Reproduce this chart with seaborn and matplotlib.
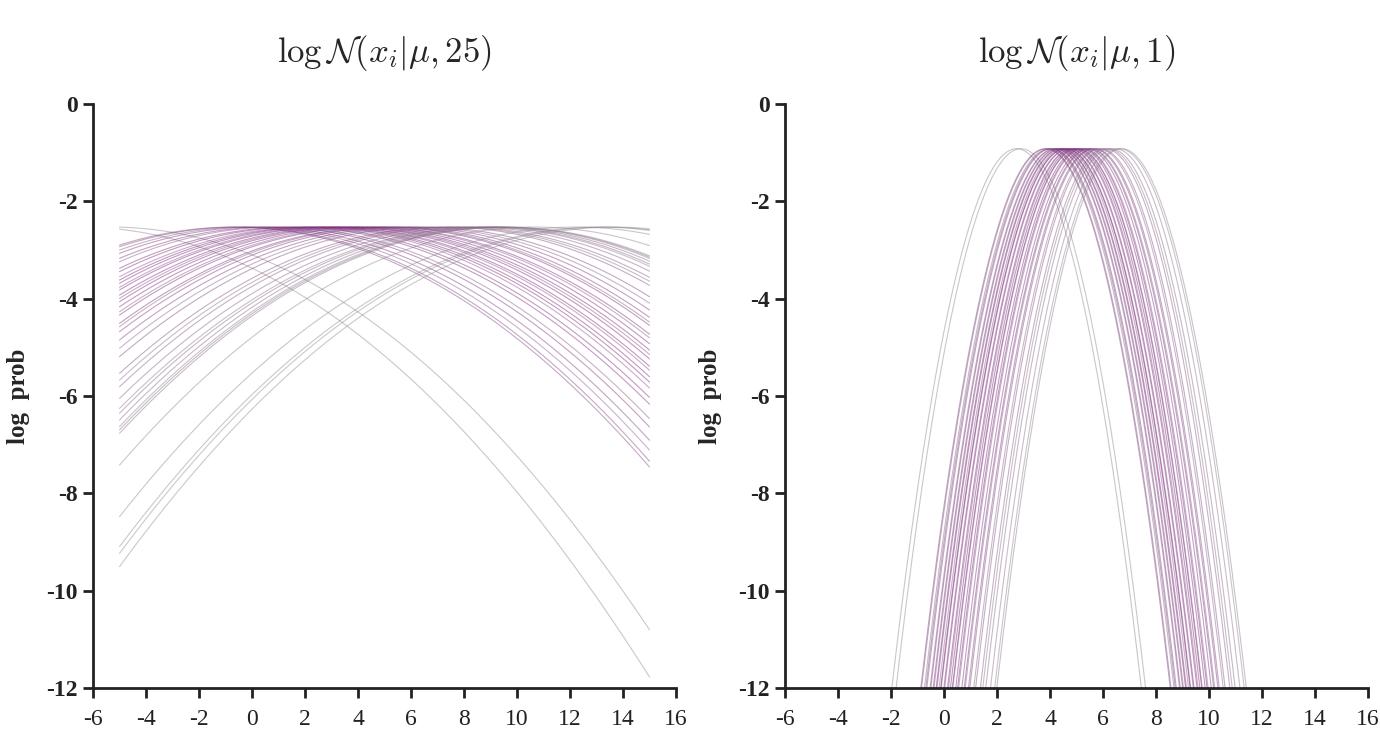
import numpy as np
import pandas as pd
import matplotlib
matplotlib.use("Agg")
import matplotlib.pyplot as plt
import matplotlib.colors as mcolors
import seaborn as sns

x_left = [-6.5, -5.34, -0.70, -0.51, -0.14, 0.20, 0.67, 0.97, 1.51, 1.77, 2.14,
          2.38, 2.60, 2.87, 3.04, 3.36, 3.56, 3.76, 4.05, 4.33, 4.51, 4.95,
          5.12, 5.37, 5.77, 6.16, 6.54, 7.26, 7.54, 7.81, 8.27, 8.65, 8.83,
          9.08, 9.32, 9.44, 9.56, 10.64, 12.25, 13.12, 13.31, 13.68]
x_right = [2.74, 2.90, 3.83, 3.86, 3.97, 4.02, 4.06, 4.18, 4.21, 4.30, 4.33,
           4.41, 4.44, 4.52, 4.58, 4.60, 4.70, 4.73, 4.84, 4.88, 4.95, 5.02,
           5.04, 5.15, 5.22, 5.26, 5.38, 5.47, 5.51, 5.63, 5.68, 5.83, 5.90,
           6.08, 6.17, 6.28, 6.46, 6.62, 6.70]
var_left = 25
var_right = 1
titles = [r"$\log\mathcal{N}(x_i|\mu,25)$", r"$\log\mathcal{N}(x_i|\mu,1)$"]
x_ticks = list(range(-6, 17, 2))
y_ticks = list(range(-12, 1, 2))
mu_range = (-5, 15)

sns.set_theme(style="white")
plt.rcParams["font.family"] = ["Liberation Serif", "DejaVu Serif"]
plt.rcParams["mathtext.fontset"] = "cm"

PURPLE = np.array(mcolors.to_rgb("#7a1f7a"))
GRAY = np.array(mcolors.to_rgb("#8c8c8c"))


def curve_frame(xs, var):
    mu = np.linspace(mu_range[0], mu_range[1], 301)
    rows = []
    for i, x in enumerate(xs):
        lp = -0.5 * np.log(2 * np.pi * var) - (x - mu) ** 2 / (2 * var)
        rows.append(pd.DataFrame({"mu": mu, "logp": lp, "curve": i}))
    return pd.concat(rows, ignore_index=True)


def colors_for(xs, center, spread):
    cols = []
    for i, x in enumerate(xs):
        w = np.exp(-((x - center) / spread) ** 2)
        if i % 3 == 1:
            w *= 0.55
        cols.append(mcolors.to_hex(GRAY * (1 - w) + PURPLE * w))
    return cols


fig = plt.figure(figsize=(13.8, 7.31), dpi=100)
ax1 = fig.add_axes([93 / 1380, 1 - 688 / 731, 583 / 1380, 584 / 731])
ax2 = fig.add_axes([785 / 1380, 1 - 688 / 731, 583 / 1380, 584 / 731])

panels = [
    (ax1, x_left, var_left, colors_for(x_left, 3.0, 6.0)),
    (ax2, x_right, var_right, colors_for(x_right, 4.9, 1.4)),
]

for k, (ax, xs, var, cols) in enumerate(panels):
    df = curve_frame(xs, var)
    sns.lineplot(data=df, x="mu", y="logp", hue="curve", palette=cols,
                 estimator=None, legend=False, linewidth=0.8, alpha=0.45, ax=ax)
    ax.set_xlim(-6, 16)
    ax.set_ylim(-12, 0)
    ax.set_xticks(x_ticks)
    ax.set_yticks(y_ticks)
    ax.set_xticklabels([str(t) for t in x_ticks], fontsize=17)
    ax.set_yticklabels([str(t) for t in y_ticks], fontsize=17, fontweight="bold")
    ax.set_xlabel("")
    ax.set_ylabel("log  prob", fontsize=18, fontweight="bold", labelpad=12)
    ax.set_title(titles[k], fontsize=25, pad=30)
    for s in ["top", "right"]:
        ax.spines[s].set_visible(False)
    for s in ["left", "bottom"]:
        ax.spines[s].set_color("#222222")
        ax.spines[s].set_linewidth(2)
    ax.tick_params(axis="both", direction="out", length=7, width=2,
                   color="#222222", labelcolor="#222222", pad=4,
                   left=True, bottom=True)
    ax.tick_params(axis="x", pad=8)

fig.savefig("out.png", dpi=100, facecolor="white")
